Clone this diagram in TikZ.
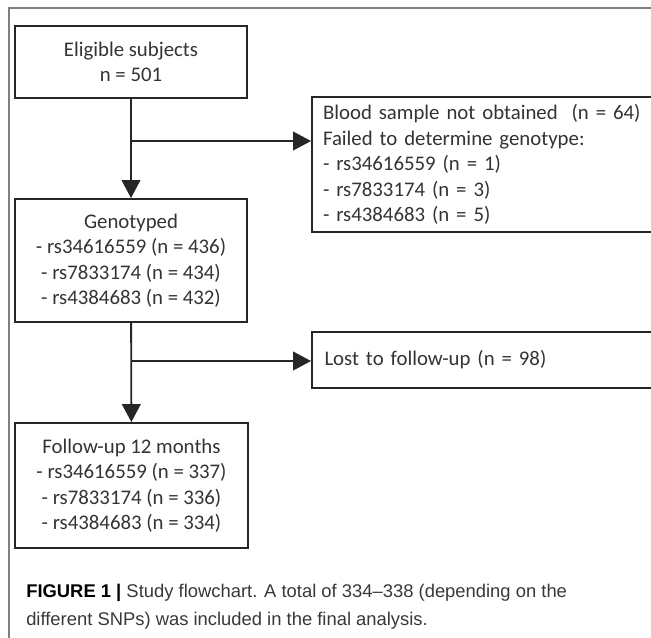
\documentclass[tikz,border=0pt]{standalone}
\usepackage{fontspec}
\setmainfont{Carlito}
\newfontfamily\capfont{Liberation Sans}
\usetikzlibrary{arrows.meta}
\begin{document}
\begin{tikzpicture}[x=0.75pt,y=-0.75pt,
  box/.style={draw=black!85, line width=1.4pt, text=black!80,
    font=\fontsize{15.6}{19.1}\selectfont, inner sep=0pt},
  flow/.style={line width=1.4pt, draw=black!85,
    -{Triangle[width=14pt,length=13.5pt]}},
  frame/.style={draw=black!50, line width=0.8pt}]
\useasboundingbox (0,0) rectangle (651,637);
\clip (0,0) rectangle (651,637);
\draw[frame] (9,640) -- (9,8) -- (655,8);
\node[box, minimum width=174pt, minimum height=54pt, align=center] (elig) at (131,62)
  {Eligible subjects\\n = 501};
\node[box, minimum width=174pt, minimum height=92.25pt, align=center] (geno) at (131,260.5)
  {Genotyped\\- rs34616559 (n = 436)\\- rs7833174 (n = 434)\\- rs4384683 (n = 432)};
\node[box, minimum width=174.75pt, minimum height=93.75pt, align=center] (fu) at (131.5,485.5)
  {Follow-up 12 months\\- rs34616559 (n = 337)\\- rs7833174 (n = 336)\\- rs4384683 (n = 334)};
\node[box, minimum width=264.75pt, minimum height=101.25pt, text width=248.25pt, align=left] (blood) at (488.5,164.5)
  {Blood sample not obtained~ (n = 64)\\Failed to determine genotype:\\- rs34616559 (n = 1)\\- rs7833174 (n = 3)\\- rs4384683 (n = 5)};
\node[box, minimum width=264.75pt, minimum height=42pt, text width=246pt, align=left] (lost) at (488.5,360)
  {Lost to follow-up (n = 98)};
\coordinate (b1) at (elig.south |- 0,141);
\coordinate (b2) at (geno.south |- 0,361);
\draw[flow] (elig) -- (geno);
\draw[flow] (geno) -- (fu);
\draw[flow] (b1) -- (b1 -| blood.west);
\draw[flow] (b2) -- (b2 -| lost.west);
\node[anchor=west, align=left, inner sep=0pt, text=black!78,
  font=\capfont\fontsize{13.8}{21}\selectfont] (cap) at (26,607)
  {{\bfseries\color{black}FIGURE 1 |} Study flowchart. A total of 334\textendash 338 (depending on the\\different SNPs) was included in the final analysis.};
\end{tikzpicture}
\end{document}
